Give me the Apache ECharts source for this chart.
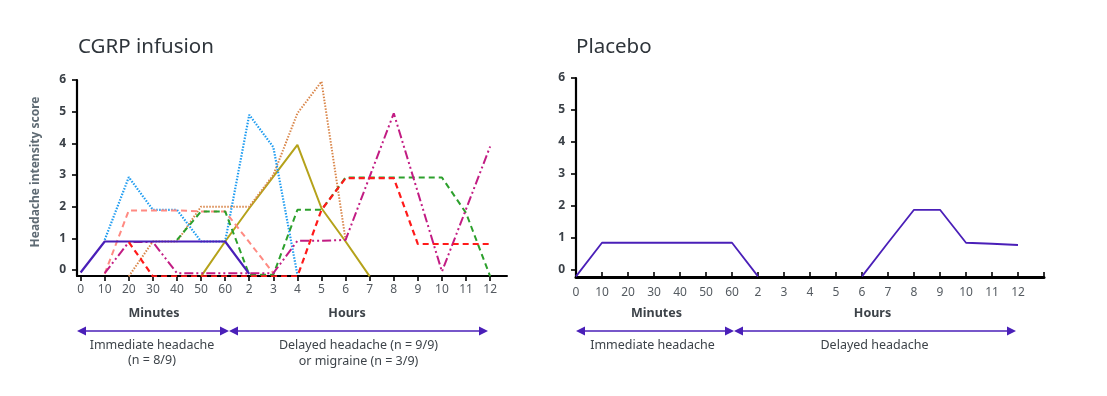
<!DOCTYPE html>
<html>
<head>
<meta charset="utf-8">
<script src="https://cdn.jsdelivr.net/npm/echarts@6/dist/echarts.min.js"></script>
<style>
html,body{margin:0;padding:0;background:#fff;}
#c{width:1107px;height:396px;}
</style>
</head>
<body>
<div id="c"></div>
<script>
// Tick labels along the time axis (minutes then hours)
const xLabels = ['0','10','20','30','40','50','60','2','3','4','5','6','7','8','9','10','11','12'];
const yTicks = [0,1,2,3,4,5,6];

// CGRP infusion: one array per participant (value per time point, null = not drawn)
const cgrpPurple  = [-0.08, 0.9, 0.9, 0.9, 0.9, 0.9, 0.9, -0.12, null, null, null, null, null, null, null, null, null, null];
const cgrpBlue    = [null, 0.95, 2.93, 1.9, 1.9, 0.9, 0.9, 4.9, 3.88, -0.15, null, null, null, null, null, null, null, null];
const cgrpSalmon  = [null, -0.12, 1.88, 1.88, 1.88, 1.85, 1.85, 0.88, -0.1, null, null, null, null, null, null, null, null, null];
const cgrpOrange  = [null, null, -0.2, 0.9, 0.9, 2.0, 2.0, 2.0, 3.0, 4.95, 5.95, 0.95, null, null, null, null, null, null];
const cgrpGreen   = [null, null, null, null, 0.95, 1.85, 1.85, -0.15, -0.15, 1.9, 1.9, 2.92, 2.92, 2.92, 2.92, 2.92, 1.8, -0.2];
const cgrpRed     = [null, null, 0.88, -0.2, -0.2, -0.2, -0.2, -0.2, -0.2, -0.2, 1.9, 2.9, 2.9, 2.9, 0.82, 0.82, 0.82, 0.82];
const cgrpMagenta = [null, -0.1, 0.88, 0.88, -0.1, -0.1, -0.1, -0.1, -0.1, 0.92, 0.92, 0.95, 2.95, 4.95, 2.45, -0.05, 1.92, 3.9];
const cgrpOlive   = [null, null, null, null, null, -0.2, 0.9, 1.95, 2.95, 3.95, 1.95, 0.9, -0.2, null, null, null, null, null];

// Placebo
const placebo = [-0.2, 0.85, 0.85, 0.85, 0.85, 0.85, 0.85, -0.2, null, null, null, -0.2, 0.85, 1.88, 1.88, 0.85, 0.82, 0.78];

const FONT = 'Noto Sans';
const TXT = '#3d4349';
const PURPLE = '#4a1fb8';

function pairs(arr){ return arr.map((v,i)=>[i,v]); }

const leftSeries = [
  {d: cgrpOlive,   c:'#b5a21a', t:'solid', w:2},
  {d: cgrpOrange,  c:'#d9864a', t:[1.5,1.5], w:2},
  {d: cgrpBlue,    c:'#1f9cf0', t:[1.5,1.5], w:2.2},
  {d: cgrpSalmon,  c:'#ff8a82', t:[6,4], w:2},
  {d: cgrpGreen,   c:'#2ca02c', t:[6,4], w:2},
  {d: cgrpMagenta, c:'#c21c83', t:[9,3,2,3,2,3], w:2},
  {d: cgrpPurple,  c:PURPLE, t:'solid', w:2.2},
  {d: cgrpRed,     c:'#ff1a1a', t:[6,4], w:2.2}
];

const series = leftSeries.map((s,k)=>({
  type:'line', xAxisIndex:0, yAxisIndex:0, data: pairs(s.d),
  showSymbol:false, symbol:'none', connectNulls:false, z: 3+k,
  lineStyle:{color:s.c, width:s.w, type:s.t, cap:'butt'}
}));
series.push({
  type:'line', xAxisIndex:1, yAxisIndex:1, data: pairs(placebo),
  showSymbol:false, symbol:'none', connectNulls:false, z:3,
  lineStyle:{color:PURPLE, width:1.8, type:'solid'}
});

const idx18 = xLabels.map((_,i)=>i);

function xAxisDef(grid, min, max, inside, tickVals, lineW){
  return {
    type:'value', gridIndex:grid, min:min, max:max,
    splitLine:{show:false},
    axisLine:{show:true, onZero:false, lineStyle:{color:'#000', width:lineW}},
    axisTick:{show:true, inside:inside, length:5, customValues: tickVals, lineStyle:{color:'#000', width:1.6}},
    axisLabel:{show:true, customValues: idx18, margin: inside?10:8, fontFamily:FONT, fontSize:12, color:'#555b61',
      formatter:(v)=>xLabels[Math.round(v)] ?? ''}
  };
}
function yAxisDef(grid, min){
  return {
    type:'value', gridIndex:grid, min:min, max:6,
    splitLine:{show:false},
    axisLine:{show:true, onZero:false, lineStyle:{color:'#000', width:2.2}},
    axisTick:{show:true, length:5, customValues:yTicks, lineStyle:{color:'#000', width:1.6}},
    axisLabel:{show:true, customValues:yTicks, margin:11, fontFamily:FONT, fontSize:12, fontWeight:'bold', color:'#3a4047'}
  };
}

function arrow(x1, x2, y){
  return {
    type:'group', children:[
      {type:'line', shape:{x1:x1+4, y1:y, x2:x2-4, y2:y}, style:{stroke:PURPLE, lineWidth:1.5}},
      {type:'polygon', shape:{points:[[x1,y],[x1+9,y-4.5],[x1+9,y+4.5]]}, style:{fill:PURPLE}},
      {type:'polygon', shape:{points:[[x2,y],[x2-9,y-4.5],[x2-9,y+4.5]]}, style:{fill:PURPLE}}
    ]
  };
}
function txt(x, y, s, opt){
  return Object.assign({type:'text', x:x, y:y, style:Object.assign({text:s, fontFamily:FONT, fontSize:12.5, fill:TXT, align:'center', verticalAlign:'middle'}, opt||{})});
}

const option = {
  animation:false,
  backgroundColor:'#fff',
  grid:[
    {left:77, top:80, width:430, height:196},
    {left:576, top:78, width:468, height:199}
  ],
  xAxis:[
    xAxisDef(0, -0.15, 17.7, false, idx18, 2),
    xAxisDef(1, 0, 18, true, idx18.concat([18]), 3)
  ],
  yAxis:[ yAxisDef(0, -0.19), yAxisDef(1, -0.22) ],
  series: series,
  graphic:[
    txt(78, 47, 'CGRP infusion', {fontSize:20.5, fill:'#2f353b', align:'left'}),
    txt(576, 47, 'Placebo', {fontSize:20.5, fill:'#2f353b', align:'left'}),
    {type:'text', x:36, y:172, rotation:Math.PI/2, style:{text:'Headache intensity score', fontFamily:FONT, fontSize:12, fontWeight:'bold', fill:'#5f6b74', align:'center', verticalAlign:'middle'}},
    txt(154, 313, 'Minutes', {fontWeight:'bold', fontSize:12.5}),
    txt(347, 313, 'Hours', {fontWeight:'bold', fontSize:12.5}),
    arrow(77, 229, 331),
    arrow(229, 488, 331),
    txt(152, 345, 'Immediate headache'),
    txt(152, 360.5, '(n = 8/9)'),
    txt(358.5, 345, 'Delayed headache (n = 9/9)'),
    txt(358.5, 361, 'or migraine (n = 3/9)'),
    txt(656.5, 313, 'Minutes', {fontWeight:'bold', fontSize:12.5}),
    txt(872.5, 313, 'Hours', {fontWeight:'bold', fontSize:12.5}),
    arrow(576, 734, 331),
    arrow(734, 1016, 331),
    txt(652.5, 345, 'Immediate headache'),
    txt(874.5, 345, 'Delayed headache')
  ]
};

const chart = echarts.init(document.getElementById('c'), null, {renderer:'canvas'});
chart.setOption(option);
</script>
</body>
</html>
